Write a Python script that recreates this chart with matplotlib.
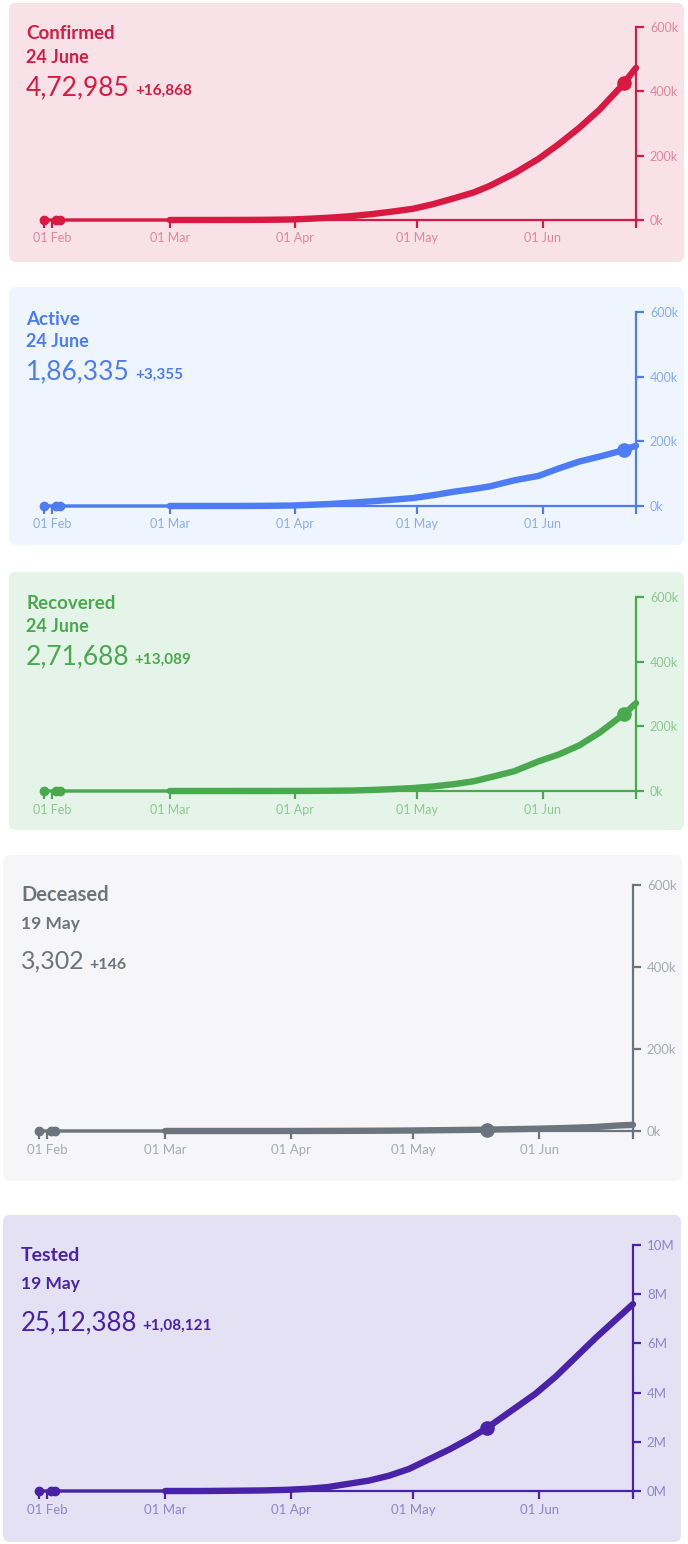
import pandas as pd
import matplotlib
matplotlib.use("Agg")
import matplotlib.pyplot as plt
import matplotlib.dates as mdates
from matplotlib.patches import FancyBboxPatch
from matplotlib.ticker import FuncFormatter

plt.rcParams["font.family"] = ["Lato", "DejaVu Sans"]

# India, 2020 - cumulative counts
dates = pd.to_datetime([
    "2020-01-30", "2020-02-02", "2020-02-03", "2020-03-01", "2020-03-05",
    "2020-03-10", "2020-03-15", "2020-03-20", "2020-03-25", "2020-03-31",
    "2020-04-05", "2020-04-10", "2020-04-15", "2020-04-20", "2020-04-25",
    "2020-04-30", "2020-05-05", "2020-05-10", "2020-05-15", "2020-05-19",
    "2020-05-25", "2020-05-31", "2020-06-05", "2020-06-10", "2020-06-15",
    "2020-06-20", "2020-06-21", "2020-06-24",
])
confirmed = [1, 2, 3, 3, 30, 62, 113, 250, 657, 1635, 4288, 7600, 12322, 18539,
             26283, 34863, 49400, 67161, 85784, 106475, 144950, 190535, 236184,
             286605, 343091, 410451, 425282, 472985]
recovered = [0, 0, 0, 3, 3, 4, 13, 23, 43, 148, 328, 774, 1489, 3273, 5939, 9068,
             14183, 20969, 30258, 42309, 61186, 91852, 113233, 141029, 180320,
             227728, 237196, 271688]
deceased = [0, 0, 0, 0, 0, 0, 2, 5, 12, 51, 118, 249, 405, 592, 825, 1154, 1694,
            2212, 2753, 3302, 4337, 5408, 6642, 8102, 9900, 13254, 13699, 14962]
active = [1, 2, 3, 0, 27, 58, 98, 222, 602, 1436, 3842, 6577, 10428, 14674, 19519,
          24641, 33523, 43980, 52773, 60864, 79427, 93275, 116309, 137474, 152871,
          169469, 174387, 186335]
tested = [0, 0, 0, 0, 0, 0, 6500, 14175, 22694, 47951, 89534, 160000, 290000,
          420000, 620000, 900000, 1300000, 1700000, 2150000, 2550000, 3250000,
          3950000, 4650000, 5450000, 6250000, 7000000, 7150000, 7600000]

names = ["Confirmed", "Active", "Recovered", "Deceased", "Tested"]
day_labels = ["24 June", "24 June", "24 June", "19 May", "19 May"]
totals = ["4,72,985", "1,86,335", "2,71,688", "3,302", "25,12,388"]
deltas = ["+16,868", "+3,355", "+13,089", "+146", "+1,08,121"]
highlight = ["2020-06-21", "2020-06-21", "2020-06-21", "2020-05-19", "2020-05-19"]
series = [confirmed, active, recovered, deceased, tested]

line_colors = ["#d81a42", "#4d7cf4", "#4aa84e", "#6c757d", "#4a22a8"]
tick_colors = ["#e3869c", "#8aacf6", "#8ec790", "#a5abb0", "#8f85c8"]
bg_colors = ["#f8e1e7", "#eef5fe", "#e4f4e8", "#f6f6f8", "#e3e1f3"]

# layout in pixels: panel box (x0, y0, x1, y1), plot area (x0, x1, ytop, ybottom)
boxes = [(9, 3, 684, 262), (9, 287, 684, 545), (9, 572, 684, 830),
         (3, 855, 682, 1181), (3, 1215, 681, 1542)]
plot_px = [(44, 636, 27, 220), (44, 636, 312, 506), (44, 636, 597, 791),
           (39, 633, 885, 1131), (39, 633, 1245, 1491)]
text_x = [26, 26, 26, 21, 21]
baselines = [(39, 63, 95), (325, 347, 379), (609, 632, 664),
             (901, 929, 969), (1261, 1289, 1330)]
title_size = [13.5, 13.5, 13.5, 14.5, 14]
date_size = [13, 13, 13, 12.5, 12.5]
num_size = [19, 19, 19, 18, 18.5]
delta_size = [11, 11, 11, 11.5, 11]
tick_size = [9, 9, 9, 9.5, 9.5]
ymax = [600000, 600000, 600000, 600000, 10000000]
ystep = [200000, 200000, 200000, 200000, 2000000]

W, H = 688, 1544
fig = plt.figure(figsize=(W / 100, H / 100), dpi=100)
bg = fig.add_axes([0, 0, 1, 1])
bg.set_xlim(0, W)
bg.set_ylim(H, 0)
bg.axis("off")

renderer = fig.canvas.get_renderer()
start, end = pd.Timestamp("2020-01-30"), pd.Timestamp("2020-06-24")
month_ticks = pd.to_datetime(["2020-02-01", "2020-03-01", "2020-04-01",
                              "2020-05-01", "2020-06-01"])

for i in range(5):
    c = line_colors[i]
    x0, y0, x1, y1 = boxes[i]
    bg.add_patch(FancyBboxPatch((x0, y0), x1 - x0, y1 - y0,
                                boxstyle="round,pad=0,rounding_size=7",
                                fc=bg_colors[i], ec="none"))

    tx = text_x[i]
    b1, b2, b3 = baselines[i]
    bg.text(tx, b1, names[i], color=c, fontsize=title_size[i], fontweight="bold", va="baseline")
    bg.text(tx, b2, day_labels[i], color=c, fontsize=date_size[i], fontweight="bold", va="baseline")
    num = bg.text(tx, b3, totals[i], color=c, fontsize=num_size[i], va="baseline")
    ext = num.get_window_extent(renderer)
    bg.text(ext.x1 + 5, b3, deltas[i], color=c, fontsize=delta_size[i],
            fontweight="bold", va="baseline")

    px0, px1, pyt, pyb = plot_px[i]
    ax = fig.add_axes([px0 / W, 1 - pyb / H, (px1 - px0) / W, (pyb - pyt) / H])
    ax.patch.set_alpha(0)
    vals = pd.Series(series[i], index=dates)

    ax.plot(vals.index, vals.values, color=c, lw=2.4, clip_on=False, zorder=3)
    late = vals[vals.index >= "2020-03-01"]
    ax.plot(late.index, late.values, color=c, lw=4.6, solid_capstyle="round",
            solid_joinstyle="round", clip_on=False, zorder=3)
    ax.plot(vals.index[:3], vals.values[:3], "o", color=c, ms=6, clip_on=False, zorder=4)
    h = pd.Timestamp(highlight[i])
    ax.plot([h], [vals[h]], "o", color=c, ms=9.5, clip_on=False, zorder=5)

    ax.set_xlim(start, end)
    ax.set_ylim(0, ymax[i])
    ax.set_xticks(month_ticks)
    ax.xaxis.set_major_formatter(mdates.DateFormatter("%d %b"))
    ax.set_xticks([start, end], minor=True)
    ax.set_yticks(range(0, ymax[i] + 1, ystep[i]))
    if ymax[i] > 1000000:
        ax.yaxis.set_major_formatter(FuncFormatter(lambda v, p: f"{v / 1e6:.0f}M"))
    else:
        ax.yaxis.set_major_formatter(FuncFormatter(lambda v, p: f"{v / 1e3:.0f}k"))
    ax.yaxis.tick_right()

    for s in ["top", "left"]:
        ax.spines[s].set_visible(False)
    for s in ["bottom", "right"]:
        ax.spines[s].set_color(c)
        ax.spines[s].set_linewidth(1.6)
    ax.tick_params(axis="x", which="both", length=6, width=1.6, color=c,
                   labelcolor=tick_colors[i], labelsize=tick_size[i], pad=3)
    ax.tick_params(axis="y", length=6, width=1.6, color=c,
                   labelcolor=tick_colors[i], labelsize=tick_size[i], pad=4)

fig.savefig("out.png", dpi=100, facecolor="white")
